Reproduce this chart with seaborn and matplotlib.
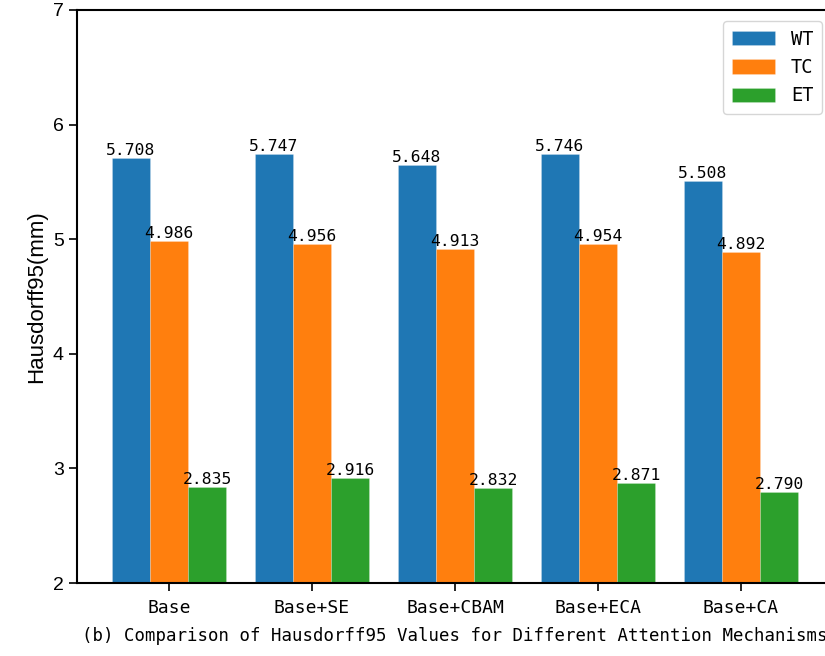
import matplotlib
matplotlib.use("Agg")
import matplotlib.pyplot as plt
import seaborn as sns
import pandas as pd

# Hausdorff95 (mm) for each attention variant and tumour sub-region
models = ["Base", "Base+SE", "Base+CBAM", "Base+ECA", "Base+CA"]
regions = ["WT", "TC", "ET"]
wt = [5.708, 5.747, 5.648, 5.746, 5.508]
tc = [4.986, 4.956, 4.913, 4.954, 4.892]
et = [2.835, 2.916, 2.832, 2.871, 2.790]
colors = ["#1f77b4", "#ff7f0e", "#2ca02c"]

df = pd.DataFrame({
    "Model": models * 3,
    "Region": ["WT"] * 5 + ["TC"] * 5 + ["ET"] * 5,
    "Value": wt + tc + et,
})

sns.set_style("ticks", {"axes.edgecolor": "black", "xtick.color": "black",
                        "ytick.color": "black", "text.color": "black",
                        "axes.labelcolor": "black"})
mono = ["DejaVu Sans Mono"]
sans = ["Liberation Sans", "DejaVu Sans"]
plt.rcParams["font.family"] = mono

fig = plt.figure(figsize=(8.25, 6.56), dpi=100)
ax = fig.add_axes([77 / 825, 73 / 656, 756 / 825, 573 / 656])

sns.barplot(data=df, x="Model", y="Value", hue="Region", order=models,
            hue_order=regions, palette=colors, saturation=1, width=0.8,
            edgecolor=(1, 1, 1, 0.2), linewidth=0.7, ax=ax, errorbar=None)

for cont in ax.containers:
    ax.bar_label(cont, fmt="%.3f", padding=0, fontsize=11.8, family=mono)

ax.set_ylim(2, 7)
ax.set_xlim(-0.643, 4.643)
ax.set_yticks([2, 3, 4, 5, 6, 7])
ax.set_yticklabels(["2", "3", "4", "5", "6", "7"], family=sans, fontsize=14)
ax.tick_params(axis="x", labelsize=13, length=5.5, width=1.2, pad=6)
ax.tick_params(axis="y", length=5.5, width=1.2, pad=4)
for sp in ax.spines.values():
    sp.set_linewidth(1.5)
    sp.set_color("black")

ax.set_ylabel("Hausdorff95(mm)", family=sans, fontsize=16, labelpad=4)
ax.set_xlabel("(b) Comparison of Hausdorff95 Values for Different Attention Mechanisms",
              fontsize=12.5, labelpad=7)

ax.legend(loc="upper right", fontsize=13.5, handlelength=2.3,
          handleheight=0.8, borderpad=0.45, labelspacing=0.5,
          handletextpad=0.85, borderaxespad=0.6, title=None)

fig.savefig("out.png", dpi=100)
